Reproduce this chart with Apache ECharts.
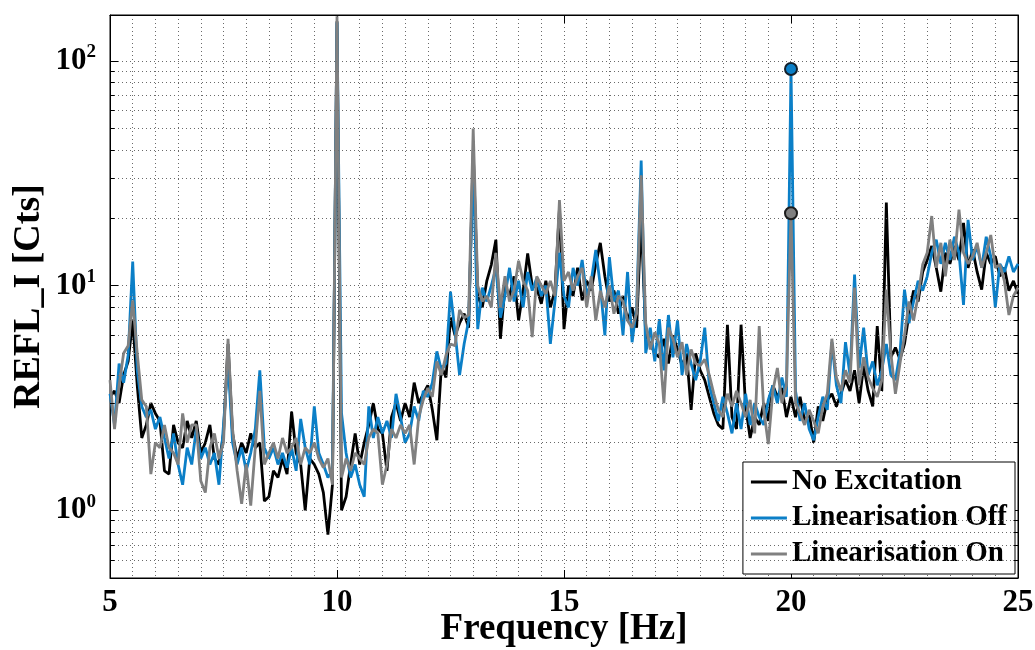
<!DOCTYPE html>
<html>
<head>
<meta charset="utf-8">
<title>REFL_I spectrum</title>
<script src="https://cdn.jsdelivr.net/npm/echarts@6/dist/echarts.min.js"></script>
<style>
  html, body { margin: 0; padding: 0; background: #fff; }
  #chart { width: 1035px; height: 650px; }
</style>
</head>
<body>
<div id="chart"></div>
<script>
// frequency bins, 0.1 Hz from 5 to 25 Hz
var freq = [];
for (var i = 0; i <= 200; i++) {
    freq.push(Math.round((5 + i * 0.1) * 10) / 10);
}

// one row per Hz (10 bins), last value is 25 Hz
var noExcitation = [
    3.2, 3.4, 3.0, 4.0, 4.6, 7.0, 3.6, 2.1, 2.4, 3.0,
    2.7, 2.5, 1.5, 1.45, 2.4, 2.0, 1.9, 2.5, 2.1, 2.5,
    1.8, 2.0, 2.4, 1.7, 1.6, 2.2, 5.5, 2.2, 1.7, 2.0,
    1.8, 2.2, 1.9, 2.0, 1.1, 1.15, 1.5, 1.4, 1.7, 1.45,
    2.75, 1.8, 1.6, 1.0, 1.7, 1.6, 1.45, 1.2, 0.78, 1.3,
    150, 1.0, 1.15, 1.6, 2.2, 1.6, 2.0, 2.4, 3.0, 2.3,
    2.2, 1.5, 2.6, 3.0, 2.5, 3.0, 2.6, 3.7, 3.0, 3.3,
    3.6, 2.8, 2.05, 4.4, 3.9, 7.2, 6.0, 6.8, 7.5, 6.5,
    40, 9.0, 8.0, 10.5, 12.4, 16, 5.8, 10, 9.0, 11,
    7.0, 9.5, 13.9, 10, 9.8, 8.3, 10.5, 8.0, 9.5, 22,
    6.4, 10, 9.0, 12, 8.6, 10.5, 9.5, 12.5, 15.5, 11,
    8.5, 9.5, 7.5, 9.0, 7.0, 8.0, 6.5, 20, 6.0, 5.5,
    5.0, 4.8, 5.8, 4.5, 6.0, 5.2, 4.4, 5.0, 2.8, 5.0,
    4.2, 3.8, 3.2, 2.7, 2.4, 2.3, 6.7, 2.6, 2.3, 6.7,
    2.9, 2.1, 2.6, 2.4, 3.0, 2.5, 3.6, 3.2, 3.5, 2.6,
    3.2, 2.6, 3.2, 2.5, 2.7, 2.0, 2.9, 2.5, 3.1, 3.3,
    2.9, 3.3, 3.8, 3.4, 4.2, 3.0, 4.4, 3.4, 2.9, 6.6,
    3.4, 23.4, 4.8, 5.3, 4.7, 5.5, 7.5, 9.5, 8.5, 11.5,
    13, 15, 12, 9.4, 14, 12.5, 15, 13, 19, 12,
    14.5, 11.5, 9.6, 14, 12.5, 13.5, 11, 12, 9.5, 10.5,
    9.2
];

var linOff = [
    3.3, 2.4, 4.5, 3.7, 4.9, 12.8, 4.2, 2.9, 2.6, 2.8,
    2.3, 2.6, 2.1, 1.7, 2.2, 1.6, 1.3, 1.9, 1.6, 2.3,
    1.7, 1.9, 1.6, 1.8, 1.3, 2.4, 4.6, 2.0, 1.6, 1.9,
    1.5, 1.8, 2.3, 4.2, 1.9, 1.7, 1.9, 1.6, 1.8, 1.55,
    1.9, 1.5, 2.55, 1.9, 1.6, 2.9, 1.8, 1.6, 1.4, 1.5,
    148, 2.7, 1.8, 1.4, 1.6, 1.3, 1.15, 2.9, 2.1, 2.6,
    2.2, 2.5, 2.1, 3.3, 2.6, 2.0, 2.2, 2.9, 2.5, 3.4,
    3.2, 3.7, 5.1, 4.2, 4.5, 9.4, 6.2, 4.0, 5.5, 7.0,
    35, 6.4, 9.8, 8.5, 10, 12, 7.2, 9, 12, 8.5,
    10.5, 8.0, 11.5, 9.5, 10.8, 9.0, 10, 5.5, 8.5, 14,
    9.0, 8.0, 12, 10, 13, 9.0, 10.5, 14.4, 10, 6.0,
    13.4, 8.5, 9.5, 6.0, 11.5, 5.6, 8.0, 36, 5.0, 6.5,
    4.6, 7.1, 4.2, 7.4, 4.8, 7.0, 4.0, 5.5, 4.5, 3.8,
    4.6, 6.5, 3.6, 3.0, 2.5, 3.2, 2.7, 2.2, 3.0, 2.3,
    3.3, 2.4, 3.0, 2.6, 2.4, 3.1, 3.6, 3.0, 3.9, 3.2,
    92, 3.4, 2.5, 3.0, 2.3, 2.05, 2.6, 3.2, 2.8, 5.6,
    3.6, 3.0, 5.6, 4.0, 11.2, 4.3, 6.5, 4.0, 4.6, 3.6,
    4.2, 5.5, 4.0, 3.8, 5.0, 9.6, 6.8, 8.5, 10.5, 9.5,
    11, 14, 16, 12.5, 15.5, 13, 16.5, 14, 8.2, 19.6,
    13, 15, 12, 16.5, 13.5, 8.0, 12.5, 11.5, 13.5, 11.5,
    12.5
];

var linOn = [
    3.8, 2.3, 3.6, 5.0, 5.4, 8.6, 5.0, 3.1, 2.9, 1.45,
    2.0, 1.9, 2.4, 1.9, 1.8, 1.6, 2.7, 2.0, 2.4, 2.4,
    1.35, 1.2, 1.9, 2.2, 1.7, 2.0, 5.8, 2.3, 1.5, 1.07,
    1.6, 1.05, 1.9, 3.4, 1.6, 1.8, 2.0, 1.7, 2.1, 1.8,
    1.9, 2.1, 1.6, 1.9, 1.8, 2.0, 1.7, 1.55, 1.7, 1.3,
    158, 1.4, 1.7, 1.5, 1.8, 1.7, 1.6, 2.1, 2.3, 2.2,
    1.3, 1.6, 2.3, 2.1, 2.4, 2.2, 2.4, 1.6, 2.6, 3.1,
    3.5, 3.2, 4.6, 4.0, 4.9, 5.5, 5.4, 7.8, 7.2, 7.4,
    50, 10, 8.5, 9.0, 8.0, 14, 8.0, 11, 8.5, 9.5,
    12.9, 10.5, 9.5, 5.9, 11, 10, 9.2, 10.5, 9.0, 24,
    10.5, 11.5, 9.5, 11, 12, 8.0, 11, 7.0, 9.5, 8.0,
    10, 7.5, 9.0, 8.5, 7.0, 6.5, 7.5, 31, 6.8, 5.2,
    6.2, 5.5, 3.0, 6.5, 5.8, 4.8, 5.6, 4.0, 5.2, 4.5,
    4.4, 4.7, 4.0, 3.3, 2.8, 2.6, 3.3, 2.9, 3.4, 3.0,
    2.6, 3.1, 2.2, 6.6, 2.8, 1.97, 3.4, 4.3, 3.0, 3.6,
    21, 3.0, 2.7, 2.4, 2.8, 2.5, 2.2, 2.9, 3.3, 5.8,
    3.9, 3.4, 4.2, 3.7, 9.8, 3.6, 4.8, 3.9, 3.5, 3.2,
    3.8, 9.6, 5.0, 3.3, 4.5, 6.0, 8.5, 7.0, 9.0, 12.4,
    14, 20.4, 12, 15.5, 11, 16, 13, 21.8, 14, 12.5,
    13.5, 15.5, 12, 14, 16.8, 12, 12.4, 10.5, 7.4, 9.0,
    9.8
];

var excitationFreq = 20;
var yMinorTicks = [0.6, 0.7, 0.8, 0.9, 2, 3, 4, 5, 6, 7, 8, 9, 20, 30, 40, 50, 60, 70, 80, 90];

var FONT = 'Liberation Serif';
var BLUE = '#0b7fc7';
var GREY = '#808080';
var LW = 2.8;
var DOTS = { color: '#6a6a6a', width: 1, type: [1, 3] };

function pairs(vals) {
    return freq.map(function (f, i) { return [f, vals[i]]; });
}

var exIdx = freq.indexOf(excitationFreq);

// minor grid lines and the small inside ticks on both y axes
var minorMarks = [];
yMinorTicks.forEach(function (v) {
    minorMarks.push({ yAxis: v, lineStyle: DOTS });
    minorMarks.push([{ coord: [5, v] }, { coord: [5.1, v] }]);
    minorMarks.push([{ coord: [24.9, v] }, { coord: [25, v] }]);
});

function logLabel(v) {
    var n = Math.round(Math.log10(v));
    if (Math.abs(Math.log10(v) - n) > 1e-6) return '';
    return '{b|10}{s|' + n + '}';
}

var myChart = echarts.init(document.getElementById('chart'));
var option = {
    animation: false,
    backgroundColor: '#fff',
    grid: {
        left: 110, right: 17, top: 15, bottom: 72,
        containLabel: false,
        outerBoundsMode: 'none',
        show: true, borderColor: '#000', borderWidth: 1
    },
    legend: {
        data: ['No Excitation', 'Linearisation Off', 'Linearisation On'],
        orient: 'vertical',
        right: 20,
        top: 462,
        icon: 'rect',
        itemWidth: 36,
        itemHeight: 3,
        itemGap: 4,
        padding: [4, 8, 4, 8],
        backgroundColor: '#fff',
        borderColor: '#000',
        borderWidth: 1,
        borderRadius: 0,
        selectedMode: false,
        textStyle: {
            fontFamily: FONT, fontWeight: 'bold', fontSize: 29,
            lineHeight: 32, color: '#000'
        }
    },
    xAxis: [
        {
            type: 'value',
            min: 5, max: 25, interval: 5,
            name: 'Frequency [Hz]',
            nameLocation: 'middle',
            nameGap: 33,
            nameMoveOverlap: false,
            nameTextStyle: { fontFamily: FONT, fontWeight: 'bold', fontSize: 37, color: '#000' },
            axisLine: { lineStyle: { color: '#000', width: 1 } },
            axisTick: { inside: true, length: 8, lineStyle: { color: '#000' } },
            axisLabel: {
                fontFamily: FONT, fontWeight: 'bold', fontSize: 31, color: '#000', margin: 9
            },
            splitLine: { show: true, lineStyle: DOTS },
            minorTick: { show: false, splitNumber: 10 },
            minorSplitLine: { show: true, lineStyle: DOTS }
        },
        {
            type: 'value',
            position: 'top',
            min: 5, max: 25, interval: 5,
            axisLine: { lineStyle: { color: '#000', width: 1 } },
            axisTick: { inside: true, length: 8, lineStyle: { color: '#000' } },
            axisLabel: { show: false },
            splitLine: { show: false }
        }
    ],
    yAxis: [
        {
            type: 'log',
            logBase: 10,
            min: 0.5, max: 160,
            name: 'REFL_I [Cts]',
            nameLocation: 'middle',
            nameGap: 62,
            nameMoveOverlap: false,
            nameTextStyle: { fontFamily: FONT, fontWeight: 'bold', fontSize: 38, color: '#000' },
            axisLine: { lineStyle: { color: '#000', width: 1 } },
            axisTick: { inside: true, length: 8, lineStyle: { color: '#000' } },
            axisLabel: {
                formatter: logLabel,
                margin: 14,
                showMinLabel: false,
                showMaxLabel: false,
                rich: {
                    b: { fontFamily: FONT, fontWeight: 'bold', fontSize: 31, color: '#000' },
                    s: { fontFamily: FONT, fontWeight: 'bold', fontSize: 19, color: '#000', padding: [0, 0, 17, 0] }
                }
            },
            splitLine: { show: true, lineStyle: DOTS }
        },
        {
            type: 'log',
            logBase: 10,
            position: 'right',
            min: 0.5, max: 160,
            axisLine: { lineStyle: { color: '#000', width: 1 } },
            axisTick: { inside: true, length: 8, lineStyle: { color: '#000' } },
            axisLabel: { show: false },
            splitLine: { show: false }
        }
    ],
    series: [
        {
            type: 'line',
            data: [],
            z: 1,
            silent: true,
            markLine: {
                silent: true,
                symbol: 'none',
                label: { show: false },
                lineStyle: { color: '#000', width: 1, type: 'solid' },
                data: minorMarks
            }
        },
        {
            name: 'No Excitation',
            type: 'line',
            data: pairs(noExcitation),
            symbol: 'none',
            lineStyle: { color: '#000', width: LW },
            itemStyle: { color: '#000' }
        },
        {
            name: 'Linearisation Off',
            type: 'line',
            data: pairs(linOff),
            symbol: 'none',
            lineStyle: { color: BLUE, width: LW },
            itemStyle: { color: BLUE },
            markPoint: {
                symbol: 'circle',
                symbolSize: 12,
                label: { show: false },
                itemStyle: { color: BLUE, borderColor: '#13202c', borderWidth: 2 },
                data: [{ coord: [freq[exIdx], linOff[exIdx]] }]
            }
        },
        {
            name: 'Linearisation On',
            type: 'line',
            data: pairs(linOn),
            symbol: 'none',
            lineStyle: { color: GREY, width: LW },
            itemStyle: { color: GREY },
            markPoint: {
                symbol: 'circle',
                symbolSize: 12,
                label: { show: false },
                itemStyle: { color: GREY, borderColor: '#1c1c1c', borderWidth: 2 },
                data: [{ coord: [freq[exIdx], linOn[exIdx]] }]
            }
        }
    ]
};

myChart.setOption(option);
</script>
</body>
</html>
